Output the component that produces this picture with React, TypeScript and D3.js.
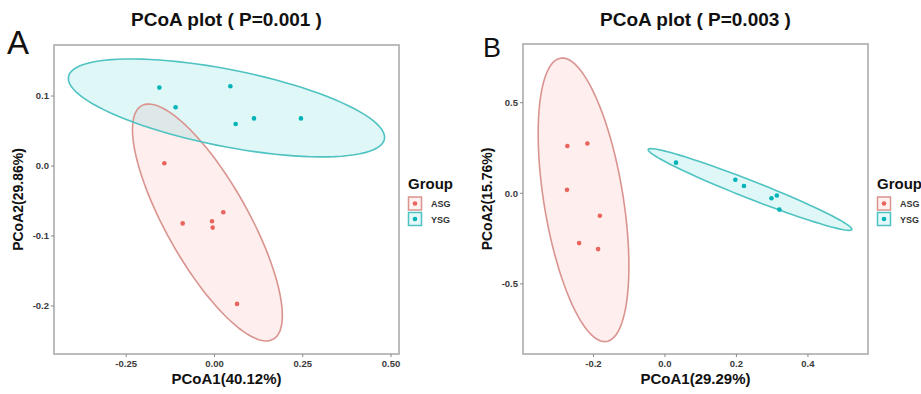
import React from "react";
import * as d3 from "d3";

// ---------- data ----------
const groups = ["ASG", "YSG"];
const groupColors = ["#E9645C", "#00B3B6"];
const ellipseStroke = ["#D9948F", "#4EC3C1"];
const ellipseFill = ["#F8766D", "#00BFC4"];

// Panel A points
const aASGx = [-0.142, -0.09, -0.007, -0.005, 0.025, 0.064];
const aASGy = [0.004, -0.082, -0.079, -0.088, -0.066, -0.197];
const aYSGx = [-0.156, 0.045, -0.11, 0.06, 0.112, 0.245];
const aYSGy = [0.112, 0.114, 0.084, 0.06, 0.068, 0.068];

// Panel B points
const bASGx = [-0.273, -0.217, -0.274, -0.182, -0.24, -0.187];
const bASGy = [0.261, 0.275, 0.019, -0.124, -0.275, -0.308];
const bYSGx = [0.031, 0.197, 0.221, 0.298, 0.313, 0.32];
const bYSGy = [0.169, 0.075, 0.04, -0.027, -0.012, -0.09];

// Ellipse shapes (center + scaled covariance, data units)
const aASGell = { cx: -0.02, cy: -0.0807, sxx: 0.04505, sxy: -0.02821, syy: 0.02866 };
const aYSGell = { cx: 0.034, cy: 0.083, sxx: 0.2006, sxy: -0.01887, syy: 0.0049 };
const bASGell = { cx: -0.2277, cy: -0.036, sxx: 0.0161, sxy: -0.0464, syy: 0.6129 };
const bYSGell = { cx: 0.238, cy: 0.021, sxx: 0.08115, sxy: -0.06248, syy: 0.05085 };

// Axis
const aXTicks = [-0.25, 0, 0.25, 0.5];
const aXTickLabels = ["-0.25", "0.00", "0.25", "0.50"];
const aYTicks = [-0.2, -0.1, 0, 0.1];
const aYTickLabels = ["-0.2", "-0.1", "0.0", "0.1"];
const bXTicks = [-0.2, 0, 0.2, 0.4];
const bXTickLabels = ["-0.2", "0.0", "0.2", "0.4"];
const bYTicks = [-0.5, 0, 0.5];
const bYTickLabels = ["-0.5", "0.0", "0.5"];

const aXDomain = [-0.4545, 0.5227];
const aYDomain = [-0.2686, 0.1729];
const bXDomain = [-0.397, 0.568];
const bYDomain = [-0.887, 0.824];

const FONT = "'Liberation Sans', Arial, Helvetica, sans-serif";

type Ell = { cx: number; cy: number; sxx: number; sxy: number; syy: number };

function ellipsePoints(e: Ell): [number, number][] {
  const l11 = Math.sqrt(e.sxx);
  const l21 = e.sxy / l11;
  const l22 = Math.sqrt(Math.max(e.syy - l21 * l21, 1e-9));
  return d3.range(0, 101).map((i) => {
    const t = (i / 100) * 2 * Math.PI;
    return [e.cx + l11 * Math.cos(t), e.cy + l21 * Math.cos(t) + l22 * Math.sin(t)] as [number, number];
  });
}

type PanelProps = {
  frame: { x0: number; x1: number; y0: number; y1: number };
  xDomain: number[];
  yDomain: number[];
  xTicks: number[];
  xTickLabels: string[];
  yTicks: number[];
  yTickLabels: string[];
  pts: { x: number[]; y: number[] }[];
  ells: Ell[];
  title: string;
  letter: string;
  letterPos: [number, number];
  letterSize: number;
  xLabel: string;
  yLabel: string;
  legendX: number;
};

function Panel(p: PanelProps) {
  const { frame } = p;
  const xs = d3.scaleLinear().domain(p.xDomain).range([frame.x0, frame.x1]);
  const ys = d3.scaleLinear().domain(p.yDomain).range([frame.y1, frame.y0]);
  const line = d3
    .line<[number, number]>()
    .x((d) => xs(d[0]))
    .y((d) => ys(d[1]))
    .curve(d3.curveLinearClosed);
  const cxMid = (frame.x0 + frame.x1) / 2;
  const cyMid = (frame.y0 + frame.y1) / 2;
  const clipId = "clip" + p.letter;
  return (
    <g>
      <defs>
        <clipPath id={clipId}>
          <rect x={frame.x0} y={frame.y0} width={frame.x1 - frame.x0} height={frame.y1 - frame.y0} />
        </clipPath>
      </defs>
      <g clipPath={`url(#${clipId})`}>
        {p.ells.map((e, i) => (
          <path key={"f" + i} d={line(ellipsePoints(e)) || ""} fill={ellipseFill[i]} fillOpacity={0.12} stroke="none" />
        ))}
        {p.ells.map((e, i) => (
          <path key={"s" + i} d={line(ellipsePoints(e)) || ""} fill="none" stroke={ellipseStroke[i]} strokeWidth={1.6} />
        ))}
        {p.pts.map((g, gi) =>
          g.x.map((xv, k) => (
            <circle key={gi + "-" + k} cx={xs(xv)} cy={ys(g.y[k])} r={2.3} fill={groupColors[gi]} />
          ))
        )}
      </g>
      <rect
        x={frame.x0}
        y={frame.y0}
        width={frame.x1 - frame.x0}
        height={frame.y1 - frame.y0}
        fill="none"
        stroke="#B5B5B5"
        strokeWidth={1.8}
      />
      {p.xTicks.map((t, i) => (
        <g key={"xt" + i}>
          <line x1={xs(t)} x2={xs(t)} y1={frame.y1} y2={frame.y1 + 3} stroke="#888" strokeWidth={1} />
          <text x={xs(t)} y={frame.y1 + 12.5} textAnchor="middle" fontSize={9.5} fontWeight="bold" fill="#3a3a3a" fontFamily={FONT}>
            {p.xTickLabels[i]}
          </text>
        </g>
      ))}
      {p.yTicks.map((t, i) => (
        <g key={"yt" + i}>
          <line x1={frame.x0 - 3} x2={frame.x0} y1={ys(t)} y2={ys(t)} stroke="#888" strokeWidth={1} />
          <text x={frame.x0 - 5} y={ys(t) + 3.3} textAnchor="end" fontSize={9.5} fontWeight="bold" fill="#3a3a3a" fontFamily={FONT}>
            {p.yTickLabels[i]}
          </text>
        </g>
      ))}
      <text x={cxMid} y={26} textAnchor="middle" fontSize={19} fontWeight="bold" fill="#111" fontFamily={FONT}>
        {p.title}
      </text>
      <text x={p.letterPos[0]} y={p.letterPos[1]} fontSize={p.letterSize} fill="#111" fontFamily={FONT}>
        {p.letter}
      </text>
      <text x={cxMid} y={384} textAnchor="middle" fontSize={15} fontWeight="bold" fill="#111" fontFamily={FONT}>
        {p.xLabel}
      </text>
      <text
        transform={`translate(${frame.x0 - 31},${cyMid}) rotate(-90)`}
        textAnchor="middle"
        fontSize={14}
        fontWeight="bold"
        fill="#111"
        fontFamily={FONT}
      >
        {p.yLabel}
      </text>
      <g>
        <text x={p.legendX} y={189} fontSize={15} fontWeight="bold" fill="#111" fontFamily={FONT}>
          Group
        </text>
        {groups.map((g, i) => (
          <g key={g}>
            <rect
              x={p.legendX + 0.5}
              y={197 + i * 15.5}
              width={13}
              height={13}
              fill={ellipseFill[i]}
              fillOpacity={0.1}
              stroke={ellipseStroke[i]}
              strokeWidth={1.5}
            />
            <circle cx={p.legendX + 7} cy={203.5 + i * 15.5} r={2.3} fill={groupColors[i]} />
            <text x={p.legendX + 23} y={207 + i * 15.5} fontSize={9} fontWeight="bold" fill="#333" fontFamily={FONT}>
              {g}
            </text>
          </g>
        ))}
      </g>
    </g>
  );
}

export default function App() {
  return (
    <svg
      width={921}
      height={394}
      style={{ position: "absolute", left: 0, top: 0, background: "#fff" }}
      xmlns="http://www.w3.org/2000/svg"
    >
      <rect width={921} height={394} fill="#fff" />
      <Panel
        frame={{ x0: 54, x1: 399, y0: 45, y1: 354 }}
        xDomain={aXDomain}
        yDomain={aYDomain}
        xTicks={aXTicks}
        xTickLabels={aXTickLabels}
        yTicks={aYTicks}
        yTickLabels={aYTickLabels}
        pts={[
          { x: aASGx, y: aASGy },
          { x: aYSGx, y: aYSGy },
        ]}
        ells={[aASGell, aYSGell]}
        title="PCoA plot ( P=0.001 )"
        letter="A"
        letterPos={[7, 54]}
        letterSize={33}
        xLabel="PCoA1(40.12%)"
        yLabel="PCoA2(29.86%)"
        legendX={408}
      />
      <Panel
        frame={{ x0: 523, x1: 868, y0: 44, y1: 354 }}
        xDomain={bXDomain}
        yDomain={bYDomain}
        xTicks={bXTicks}
        xTickLabels={bXTickLabels}
        yTicks={bYTicks}
        yTickLabels={bYTickLabels}
        pts={[
          { x: bASGx, y: bASGy },
          { x: bYSGx, y: bYSGy },
        ]}
        ells={[bASGell, bYSGell]}
        title="PCoA plot ( P=0.003 )"
        letter="B"
        letterPos={[483, 57]}
        letterSize={27}
        xLabel="PCoA1(29.29%)"
        yLabel="PCoA2(15.76%)"
        legendX={877}
      />
    </svg>
  );
}
